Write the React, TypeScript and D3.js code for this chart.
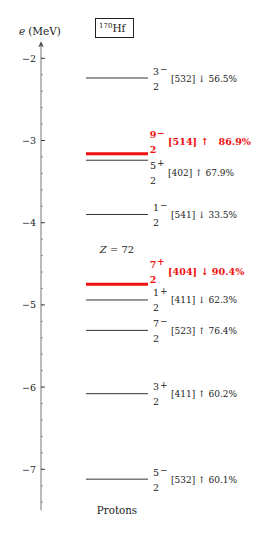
import React from "react";
import * as d3 from "d3";

const energies = [-2.24, -3.16, -3.24, -3.9, -4.75, -4.94, -5.31, -6.08, -7.12];
const spinNum = [3, 9, 5, 1, 7, 1, 7, 3, 5];
const spinDen = [2, 2, 2, 2, 2, 2, 2, 2, 2];
const parity = ["−", "−", "+", "−", "+", "+", "−", "+", "−"];
const nilsson = ["[532]", "[514]", "[402]", "[541]", "[404]", "[411]", "[523]", "[411]", "[532]"];
const spinDir = ["↓", "↑", "↑", "↓", "↓", "↓", "↑", "↑", "↑"];
const purity = ["56.5", "86.9", "67.9", "33.5", "90.4", "62.3", "76.4", "60.2", "60.1"];
const highlighted = [false, true, false, false, true, false, false, false, false];
const yTicks = [-2, -3, -4, -5, -6, -7];
const nucleus = { mass: "170", symbol: "Hf" };
const protonNumber = "Z = 72";
const axisTitle = "(MeV)";
const particleLabel = "Protons";

// layout-only label displacement (px) to avoid overlapping labels
const labelShift = [0, -12, 12, 0, -13, 0, 0, 0, 0];

const FONT = "'DejaVu Serif', serif";
const RED = "#f01010";

export default function App() {
  const W = 269;
  const H = 533;
  const y = d3.scaleLinear().domain([-2, -7]).range([58.3, 469.3]);
  const axisX = 41;
  const yTop = y(-1.8);
  const yBot = y(-7.5);
  const minor = d3.range(-7.4, -1.85, 0.2).map((v) => Math.round(v * 10) / 10);
  const lx0 = 86;
  const lx1 = 148;

  return (
    <svg width={W} height={H} style={{ position: "absolute", left: 0, top: 0 }} fontFamily={FONT}>
      <rect width={W} height={H} fill="#fff" />
      {/* axis */}
      <line x1={axisX} x2={axisX} y1={yTop + 3} y2={yBot} stroke="#777" strokeWidth={1} />
      <path d={`M${axisX - 2.2},${yTop + 5} L${axisX},${yTop} L${axisX + 2.2},${yTop + 5} L${axisX},${yTop + 3.5} Z`} fill="#444" stroke="#444" strokeWidth={0.5} />
      {minor.map((v, i) => (
        <line key={"m" + i} x1={axisX} x2={axisX + 2} y1={y(v)} y2={y(v)} stroke="#777" strokeWidth={0.8} />
      ))}
      {yTicks.map((t) => (
        <g key={t}>
          <line x1={axisX} x2={axisX + 4} y1={y(t)} y2={y(t)} stroke="#444" strokeWidth={1} />
          <text x={36} y={y(t) + 3.5} fontSize={9.5} textAnchor="end" fill="#222">
            {"−" + Math.abs(t)}
          </text>
        </g>
      ))}
      <text x={19} y={35} fontSize={10.5} fill="#222">
        <tspan fontStyle="italic">e</tspan>
        <tspan dx={3}>{axisTitle}</tspan>
      </text>
      {/* nucleus box */}
      <rect x={95.5} y={18.5} width={38} height={19} fill="none" stroke="#222" strokeWidth={1} />
      <text x={99} y={32} fontSize={10.5} fill="#222">
        <tspan fontSize={7} dy={-4}>{nucleus.mass}</tspan>
        <tspan dy={4}>{nucleus.symbol}</tspan>
      </text>
      <text x={117} y={253} fontSize={10} textAnchor="middle" fill="#222">
        <tspan fontStyle="italic">Z</tspan>
        <tspan>{protonNumber.slice(1)}</tspan>
      </text>
      <text x={117} y={514} fontSize={10.3} textAnchor="middle" fill="#222">
        {particleLabel}
      </text>
      {/* levels */}
      {energies.map((e, i) => {
        const ly = y(e);
        const hi = highlighted[i];
        const c = ly + labelShift[i];
        const fx = labelShift[i] !== 0 ? 153 : 156;
        const col = hi ? RED : "#222";
        const fw = hi ? "bold" : "normal";
        const txt = hi && spinDir[i] === "↑"
          ? `${nilsson[i]} ${spinDir[i]}\u00a0\u00a0\u00a0${purity[i]}%`
          : `${nilsson[i]} ${spinDir[i]} ${purity[i]}%`;
        return (
          <g key={i}>
            <line x1={lx0} x2={lx1} y1={ly} y2={ly} stroke={hi ? RED : "#333"} strokeWidth={hi ? 3 : 1} />
            <text x={fx} y={c - 3.5} fontSize={9.5} textAnchor="middle" fill={col} fontWeight={fw}>
              {spinNum[i]}
            </text>
            <text x={fx} y={c + 11.5} fontSize={9.5} textAnchor="middle" fill={col} fontWeight={fw}>
              {spinDen[i]}
            </text>
            <text x={fx + 4} y={c - 6} fontSize={9} fill={col} fontWeight={fw}>
              {parity[i]}
            </text>
            <text x={fx + 15} y={c + 3.5} fontSize={hi ? 9.6 : 9} fill={col} fontWeight={fw} style={{ whiteSpace: "pre" }}>
              {txt}
            </text>
          </g>
        );
      })}
    </svg>
  );
}
